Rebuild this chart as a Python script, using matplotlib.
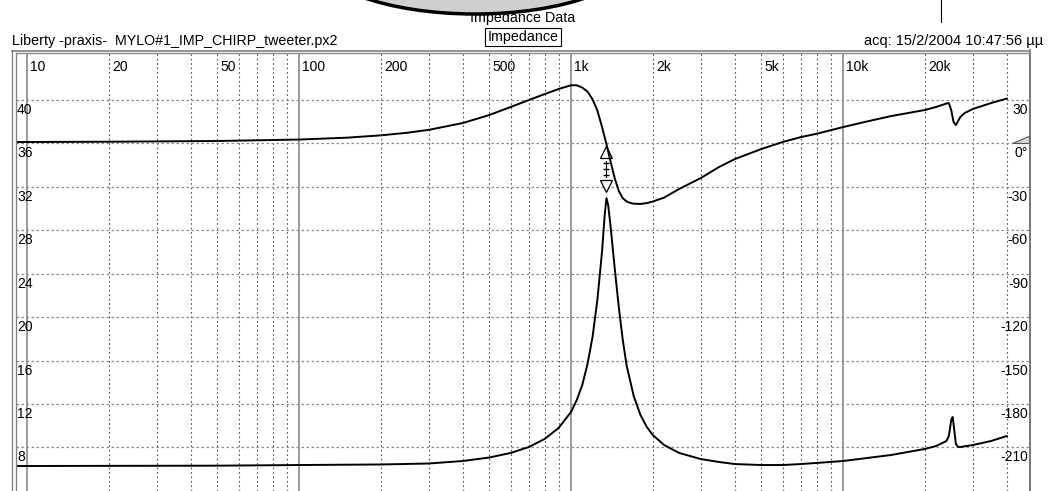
import matplotlib.pyplot as plt
import matplotlib.transforms as mtransforms
from matplotlib.patches import Ellipse, Polygon
from matplotlib.lines import Line2D

plt.rcParams['font.family'] = ['Liberation Sans', 'DejaVu Sans']

# impedance magnitude (ohm), left scale
freq_mag = [9.1, 10, 50, 100, 200, 300, 400, 500, 600, 700, 800, 900, 1000, 1050,
            1100, 1150, 1200, 1250, 1300, 1330, 1350, 1370, 1400, 1450, 1500, 1550,
            1600, 1700, 1800, 1900, 2000, 2200, 2500, 3000, 3500, 4000, 5000, 6000,
            7000, 8000, 10000, 15000, 20000, 22000, 24000, 24500, 25000, 25300, 25600,
            26000, 26500, 27000, 30000, 35000, 40000]
mag_ohm = [6.29, 6.29, 6.32, 6.38, 6.43, 6.52, 6.75, 7.07, 7.49, 8.04, 8.78, 9.79,
           11.26, 12.37, 13.75, 15.68, 18.17, 21.58, 26.0, 29.41, 30.97, 30.33, 28.21,
           24.34, 20.84, 17.9, 15.59, 12.74, 10.99, 9.88, 9.14, 8.22, 7.49, 6.93, 6.66,
           6.47, 6.38, 6.38, 6.47, 6.57, 6.75, 7.30, 7.86, 8.13, 8.59, 9.05, 10.53,
           10.8, 9.79, 8.32, 8.04, 8.04, 8.22, 8.59, 9.05]

# impedance phase (deg), right scale
freq_phase = [9.1, 10, 20, 50, 100, 150, 200, 250, 300, 400, 500, 600, 700, 800, 900,
              1000, 1050, 1100, 1150, 1200, 1250, 1300, 1350, 1400, 1450, 1500, 1550,
              1600, 1650, 1700, 1800, 1900, 2000, 2200, 2500, 3000, 3500, 4000, 5000,
              6000, 7000, 8000, 10000, 12000, 15000, 20000, 22000, 24000, 24500, 25000,
              25500, 26000, 26500, 27000, 28000, 30000, 35000, 40000]
phase_deg = [1.0, 1.0, 1.2, 1.7, 2.7, 4.0, 5.6, 7.4, 9.4, 14.1, 19.6, 25.2, 30.0, 34.1,
             37.6, 40.2, 40.2, 38.6, 35.8, 30.5, 22.8, 11.5, -0.5, -13.0, -24.5, -33.0,
             -37.8, -40.0, -41.1, -41.6, -41.8, -41.2, -40.1, -37.4, -31.4, -23.9, -16.3,
             -10.8, -3.9, 1.0, 4.4, 6.7, 11.3, 14.8, 18.9, 23.1, 25.2, 27.6, 27.9, 23.1,
             14.8, 12.7, 15.5, 18.3, 21.0, 23.8, 27.9, 31.0]

ohm_ticks = [8, 12, 16, 20, 24, 28, 32, 36, 40]
deg_ticks = [-210, -180, -150, -120, -90, -60, -30, 0, 30]
deg_labels = ['-210', '-180', '-150', '-120', '-90', '-60', '-30', '0°', '30']
freq_ticks = [10, 20, 50, 100, 200, 500, 1000, 2000, 5000, 10000, 20000]
freq_labels = ['10', '20', '50', '100', '200', '500', '1k', '2k', '5k', '10k', '20k']

W, H = 1049, 491
fig = plt.figure(figsize=(W / 100, H / 100), dpi=100)


def fx(x):
    return x / W


def fy(y):
    return 1 - y / H


ax = fig.add_axes([fx(16), 0, fx(1030) - fx(16), (H - 52.7) / H])
ax.set_xscale('log')
ax.set_xlim(9.11, 48700)
ax.set_ylim(3.987, 44.36)
ax2 = ax.twinx()
ax2.set_ylim((3.987 - 36) * 7.5, (44.36 - 36) * 7.5)

for a in (ax, ax2):
    a.set_xticks([])
    a.set_yticks([])
    a.minorticks_off()
    for s in a.spines.values():
        s.set_visible(False)
ax.xaxis.set_minor_locator(plt.NullLocator())

# grid
for d in [10, 100, 1000, 10000]:
    ax.axvline(d, color='#8a8a8a', lw=1.2, zorder=1)
    for k in range(2, 10):
        if k * d < 48700:
            ax.axvline(k * d, color='#555555', lw=0.8, ls=(0, (1.5, 2.5)), zorder=1)
for v in ohm_ticks:
    ax.axhline(v, color='#8c8c8c', lw=0.9, ls=(0, (2, 2)), zorder=1)

# curves
ax.plot(freq_mag, mag_ohm, color='black', lw=1.4, zorder=3)
ax2.plot(freq_phase, phase_deg, color='black', lw=1.4, zorder=3)

# cursor markers at resonance
ax.plot([1345, 1345], [34.4, 32.9], color='black', lw=0.8, zorder=4)
ax.plot([1345] * 3, [34.2, 33.65, 33.1], ls='none', marker='_', ms=5, color='black', zorder=4)
ax.plot(1345, 35.17, marker='^', ms=9, mfc='white', mec='black', mew=0.9, zorder=5)
ax.plot(1345, 32.1, marker='v', ms=9, mfc='white', mec='black', mew=0.9, zorder=5)

# tick labels inside the plot
top_tr = mtransforms.offset_copy(ax.get_xaxis_transform(), fig=fig, x=3, y=0, units='dots')
for f, lab in zip(freq_ticks, freq_labels):
    ax.text(f, 0.967, lab, transform=top_tr, ha='left', va='center', fontsize=10, zorder=6)

left_tr = mtransforms.offset_copy(ax.get_yaxis_transform(), fig=fig, x=1, y=-3, units='dots')
for v in ohm_ticks:
    ax.text(0.0, v, str(v), transform=left_tr, ha='left', va='top', fontsize=10, zorder=6)

right_tr = mtransforms.offset_copy(ax2.get_yaxis_transform(), fig=fig, x=-2, y=-3, units='dots')
for v, lab in zip(deg_ticks, deg_labels):
    ax2.text(1.0, v, lab, transform=right_tr, ha='right', va='top', fontsize=10, zorder=6)

# zero phase wedge
wedge_tr = ax.get_yaxis_transform()
ax.add_patch(Polygon([[0.983, 36.0], [1.0, 36.68], [1.0, 36.0]], closed=True,
                     transform=wedge_tr, fc='#d8d8d8', ec='#555555', lw=0.8, zorder=5))

# frame
frame = dict(color='#808080', lw=1.0)
fig.add_artist(Line2D([fx(12), fx(12)], [0, fy(50)], **frame))
fig.add_artist(Line2D([fx(16), fx(16)], [0, fy(53)], **frame))
fig.add_artist(Line2D([fx(1030), fx(1030)], [0, fy(50)], color='#606060', lw=1.2))
fig.add_artist(Line2D([fx(12), fx(1030)], [fy(50.5), fy(50.5)], color='#8a8a8a', lw=1.3))
fig.add_artist(Line2D([fx(16), fx(1030)], [fy(53), fy(53)], color='#8a8a8a', lw=1.0))

# headers
fig.text(fx(523), fy(18), 'Impedance Data', ha='center', va='center', fontsize=10.3)
fig.text(fx(523), fy(37), 'Impedance', ha='center', va='center', fontsize=10.3,
         bbox=dict(boxstyle='square,pad=0.15', fc='white', ec='black', lw=0.8))
fig.text(fx(12.5), fy(41), 'Liberty -praxis-  MYLO#1_IMP_CHIRP_tweeter.px2',
         ha='left', va='center', fontsize=10.3)
fig.text(fx(1043), fy(41), 'acq: 15/2/2004 10:47:56 µµ', ha='right', va='center', fontsize=10.5)

# decorative shape cut by the top edge
fig.add_artist(Ellipse((fx(475), fy(-46)), 2 * 162 / W, 2 * 60 / H,
                       transform=fig.transFigure, fc='#cfcfcf', ec='black', lw=2.5,
                       zorder=10))
fig.add_artist(Line2D([fx(941), fx(941)], [1, fy(22)], color='black', lw=0.8))

fig.savefig('out.png', dpi=100)
